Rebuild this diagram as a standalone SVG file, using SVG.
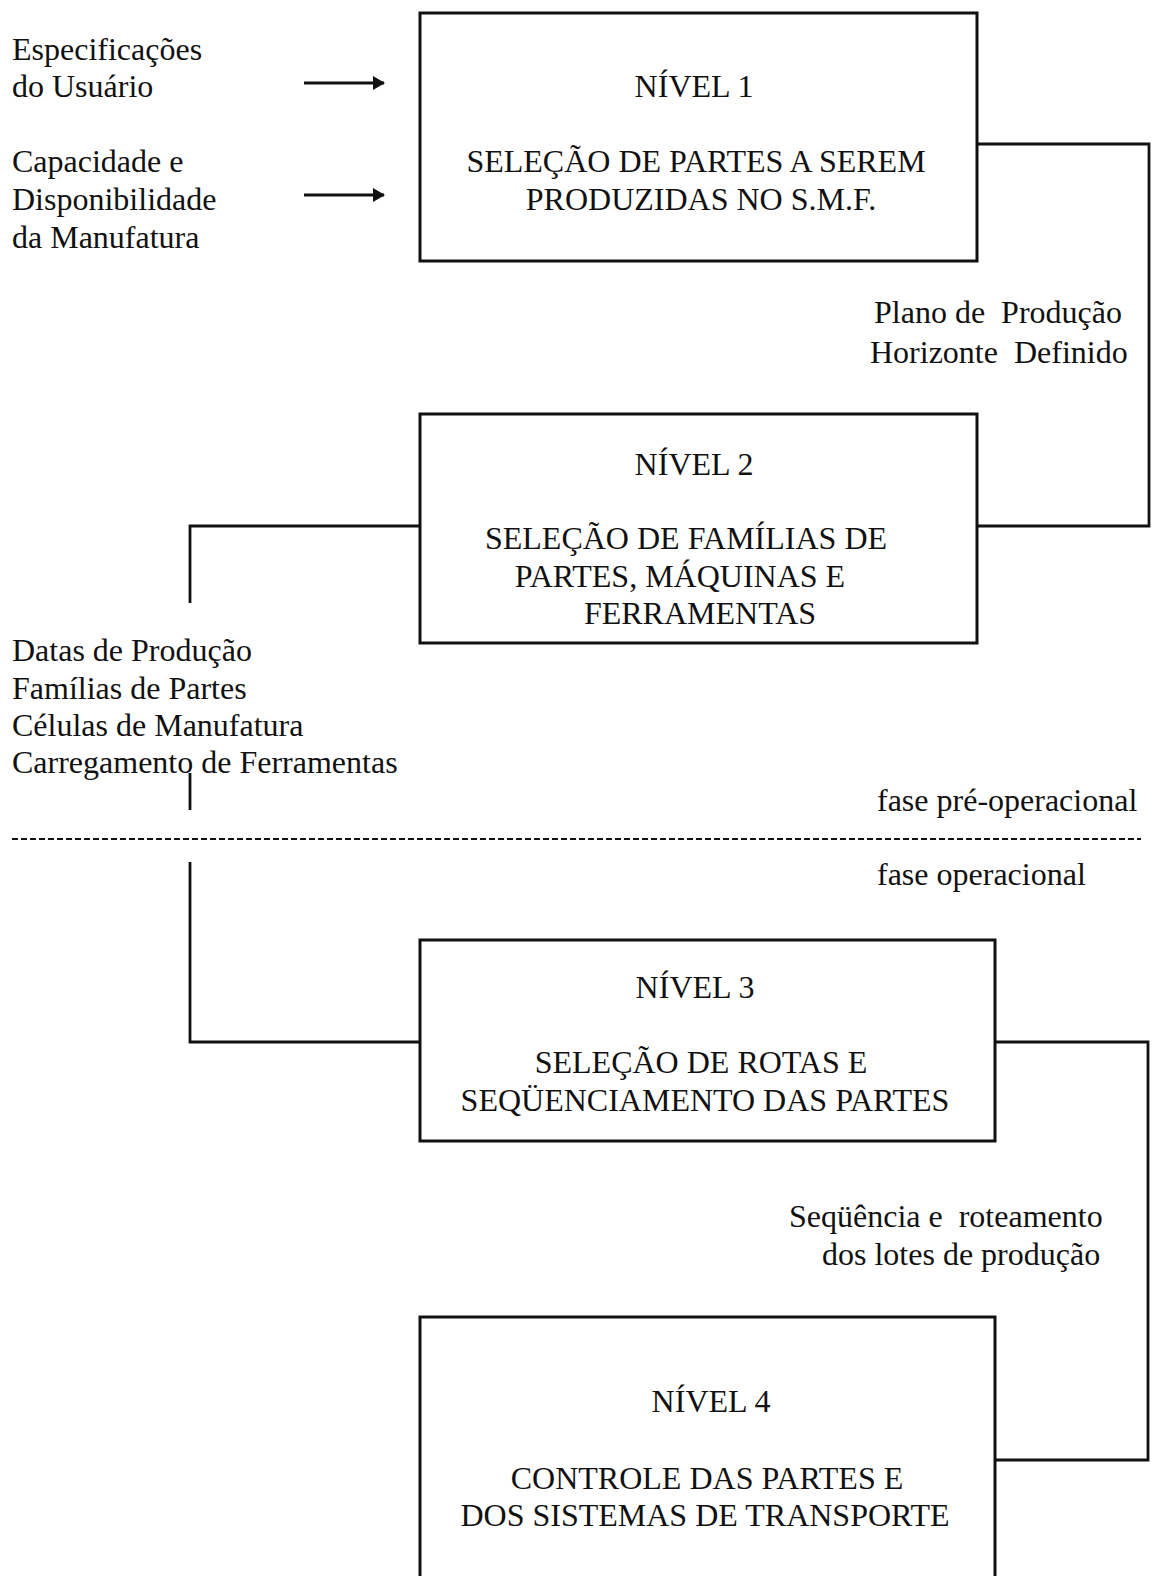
<svg xmlns="http://www.w3.org/2000/svg" width="1155" height="1576" viewBox="0 0 1155 1576">
<defs>
<style>
text{font-family:"Liberation Serif","Times New Roman",serif;font-size:32px;fill:#111;white-space:pre}
.c{text-anchor:middle}
.box{fill:none;stroke:#111;stroke-width:3}
.ln{fill:none;stroke:#111;stroke-width:2.8}
.arr{fill:none;stroke:#111;stroke-width:3.2}
.dash{stroke:#111;stroke-width:2;stroke-dasharray:6 3;fill:none}
</style>
<marker id="ah" viewBox="0 0 12 14" refX="11" refY="7" markerWidth="12" markerHeight="14" markerUnits="userSpaceOnUse" orient="auto">
<path d="M0,0 L12,7 L0,14 z" fill="#111"/>
</marker>
</defs>
<rect width="1155" height="1576" fill="#fff"/>

<g id="inputs">
<text x="12" y="60">Especificações</text>
<text x="12" y="97">do Usuário</text>
<text x="12" y="172">Capacidade e</text>
<text x="12" y="210">Disponibilidade</text>
<text x="12" y="248">da Manufatura</text>
</g>

<g id="nivel1">
<rect class="box" x="420" y="13" width="557" height="248"/>
<text class="c" x="694" y="97">NÍVEL 1</text>
<text class="c" x="696" y="172">SELEÇÃO DE PARTES A SEREM</text>
<text class="c" x="701" y="210">PRODUZIDAS NO S.M.F.</text>
</g>

<g id="nivel2">
<rect class="box" x="420" y="414" width="557" height="229"/>
<text class="c" x="694" y="475">NÍVEL 2</text>
<text class="c" x="686" y="549">SELEÇÃO DE FAMÍLIAS DE</text>
<text class="c" x="680" y="587">PARTES, MÁQUINAS E</text>
<text class="c" x="700" y="624">FERRAMENTAS</text>
</g>

<g id="nivel3">
<rect class="box" x="420" y="940" width="575" height="201"/>
<text class="c" x="695" y="998">NÍVEL 3</text>
<text class="c" x="701" y="1073">SELEÇÃO DE ROTAS E</text>
<text class="c" x="705" y="1111">SEQÜENCIAMENTO DAS PARTES</text>
</g>

<g id="nivel4">
<path class="box" d="M420,1580 V1317 H995 V1580"/>
<text class="c" x="711" y="1412">NÍVEL 4</text>
<text class="c" x="707" y="1489">CONTROLE DAS PARTES E</text>
<text class="c" x="705" y="1526">DOS SISTEMAS DE TRANSPORTE</text>
</g>

<g id="labels">
<text x="874" y="323">Plano de  Produção</text>
<text x="870" y="363">Horizonte  Definido</text>
<text x="12" y="661">Datas de Produção</text>
<text x="12" y="699">Famílias de Partes</text>
<text x="12" y="736">Células de Manufatura</text>
<text x="12" y="773">Carregamento de Ferramentas</text>
<text x="877" y="811">fase pré-operacional</text>
<text x="877" y="885">fase operacional</text>
<text x="789" y="1227">Seqüência e  roteamento</text>
<text x="822" y="1265">dos lotes de produção</text>
</g>

<g id="connectors">
<line class="arr" x1="304" y1="83" x2="384" y2="83" marker-end="url(#ah)"/>
<line class="arr" x1="304" y1="195" x2="384" y2="195" marker-end="url(#ah)"/>
<path class="ln" d="M977,144 H1149 V526 H977"/>
<path class="ln" d="M420,526 H190 V603"/>
<path class="ln" d="M190,773 V810"/>
<path class="ln" d="M190,862 V1042 H420"/>
<path class="ln" d="M995,1042 H1148 V1460 H995"/>
<line class="dash" x1="12" y1="839" x2="1141" y2="839"/>
</g>
</svg>
